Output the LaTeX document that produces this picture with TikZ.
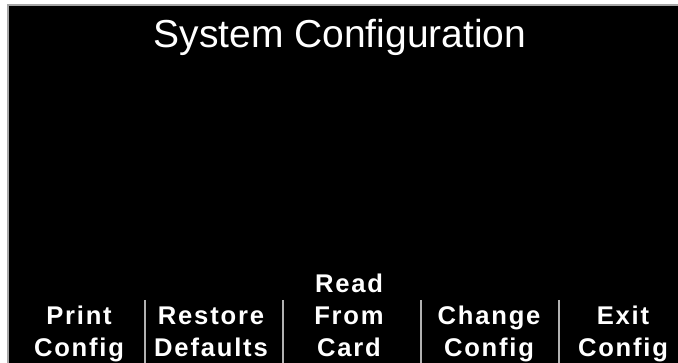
\documentclass[tikz,border=0pt]{standalone}
\usepackage{fontspec}
\setmainfont{Liberation Sans}
\begin{document}
\begin{tikzpicture}[x=1pt,y=-1pt,
  screen/.style={fill=black,draw=gray!70,line width=1.2pt},
  sep/.style={draw=gray!60,line width=2.4pt},
  softkey/.style={text=white,align=center,anchor=base,inner sep=0pt,
    font=\fontsize{25.6}{32}\selectfont\bfseries\addfontfeatures{LetterSpace=7}},
  title/.style={text=white,anchor=base,inner sep=0pt,font=\fontsize{39}{44}\selectfont}]
\useasboundingbox (0,0) rectangle (678,363);
\fill[white] (0,0) rectangle (678,363);
\path[screen] (8,5) rectangle (680,366);
\node[title] (t) at (340,48) {System Configuration};
\node[softkey] (pc) at (79,357) {Print\\Config};
\node[softkey] (rd) at (211,357) {Restore\\Defaults};
\node[softkey] (rfc) at (349,357) {Read\\From\\Card};
\node[softkey] (cc) at (489,357) {Change\\Config};
\node[softkey] (ec) at (623,357) {Exit\\Config};
\coordinate (s1t) at (145,300); \coordinate (s1b) at (145,363);
\coordinate (s2t) at (283,300); \coordinate (s2b) at (283,363);
\coordinate (s3t) at (421,300); \coordinate (s3b) at (421,363);
\coordinate (s4t) at (559,300); \coordinate (s4b) at (559,363);
\draw[sep] (s1t) -- (s1b);
\draw[sep] (s2t) -- (s2b);
\draw[sep] (s3t) -- (s3b);
\draw[sep] (s4t) -- (s4b);
\end{tikzpicture}
\end{document}
